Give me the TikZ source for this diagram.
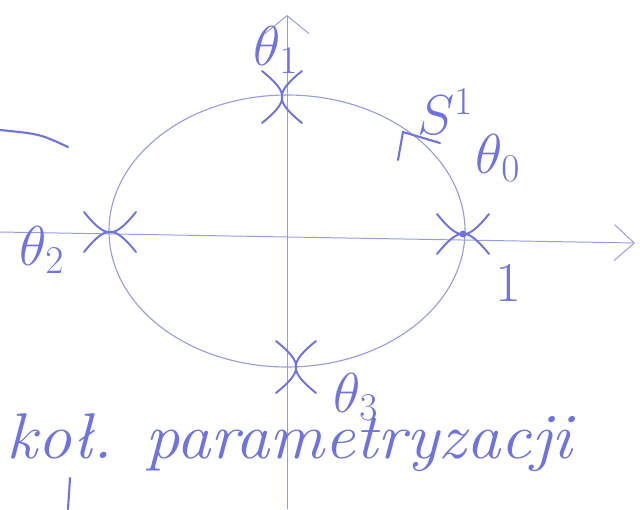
\documentclass[tikz,border=0pt]{standalone}
\usepackage{fix-cm}
\usetikzlibrary{arrows.meta}
\definecolor{penInk}{HTML}{6E73E0}
\definecolor{penLine}{HTML}{989CDE}
\tikzset{
    axisline/.style={line width=0.7pt, draw=penLine},
    ring/.style={draw=penLine, line width=0.8pt},
    cross/.style={draw=penInk, line width=1.4pt, line cap=round},
    pen/.style={draw=penInk, line width=1.5pt, line cap=round},
    lbl/.style={text=penInk, font=\fontsize{40}{44}\selectfont, inner sep=0pt},
    caption/.style={text=penInk, font=\fontsize{46}{50}\selectfont\itshape, inner sep=0pt, anchor=base west, xscale=1.06}
}
\begin{document}
\begin{tikzpicture}[x=0.025cm, y=-0.025cm]
\useasboundingbox (0,0) rectangle (640,509);
% axes
\coordinate (xL) at (0,232);
\coordinate (xR) at (635,243);
\coordinate (yB) at (287,509);
\coordinate (yT) at (287,15);
\draw[axisline, -{Straight Barb[length=5mm, width=9mm]}] (xL) -- (xR);
\draw[axisline, -{Straight Barb[length=4.5mm, width=11mm]}] (yB) -- (yT);
% parametrised circle
\draw[ring] (287,231) ellipse [x radius=178, y radius=136];
\coordinate (sTip) at (403,132);
\draw[pen] (440,143) -- (sTip) -- (398,160);
% points on the circle
\coordinate (mTop) at (282,97);
\coordinate (mBot) at (296,367);
\coordinate (mLeft) at (110,232);
\coordinate (mRight) at (463,234);
\foreach \p/\r in {mTop/0, mBot/0, mLeft/90, mRight/90}{
    \draw[cross, shift={(\p)}, rotate=\r] (-20,-26) .. controls (7,-4) and (7,4) .. (-20,26);
    \draw[cross, shift={(\p)}, rotate=\r] (20,-26) .. controls (-7,-4) and (-7,4) .. (20,26);
}
\fill[penInk] (mRight) circle (3.5);
% labels
\node[lbl] (th1) at (276,50) {$\theta_1$};
\node[lbl] (th0) at (498,158) {$\theta_0$};
\node[lbl] (sone) at (445,112) {$S^1$};
\node[lbl] (th2) at (42,250) {$\theta_2$};
\node[lbl] (th3) at (356,397) {$\theta_3$};
\node[lbl] (one) at (508,283) {1};
\node[caption] (capt) at (6,458) {ko\l. parametryzacji};
% loose strokes
\draw[pen] (0,130) .. controls (40,134) .. (68,147);
\draw[pen] (70,478) -- (68,509);
\end{tikzpicture}
\end{document}
